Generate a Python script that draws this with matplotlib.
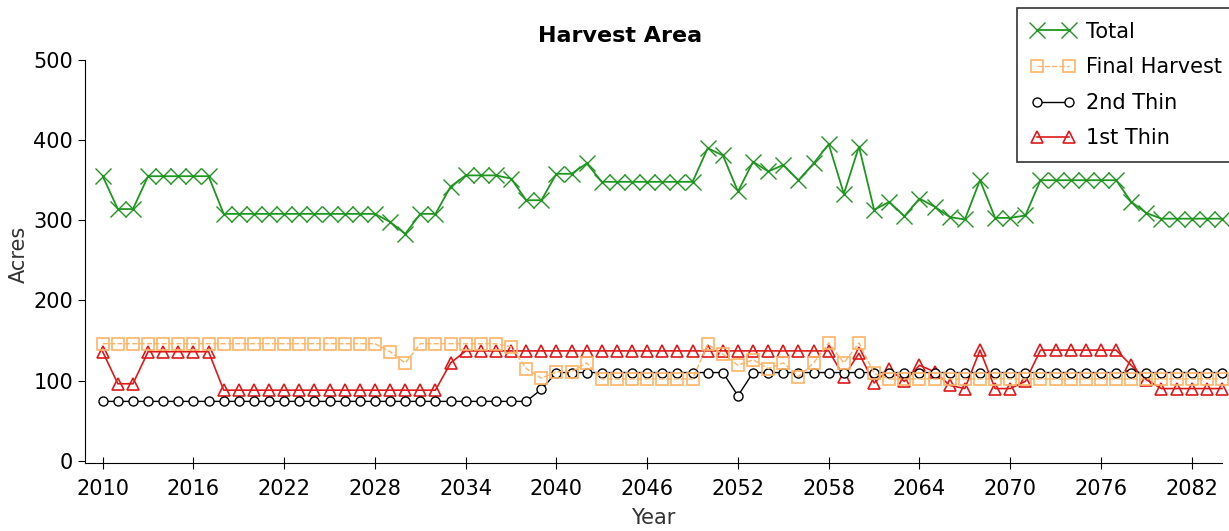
import numpy as np
import matplotlib
matplotlib.use("Agg")
import matplotlib.pyplot as plt

# years and series
years = np.arange(2010, 2085)

total = ([355, 314, 314] + [355] * 5 + [308] * 11 + [298, 283, 308, 308, 342]
         + [356] * 3 + [352, 325, 325, 358, 358, 371] + [348] * 7
         + [390, 381, 336, 373, 361, 369, 350, 371, 395, 333, 392, 313, 323,
            305, 327, 317, 304, 301, 350, 303, 303, 306]
         + [350] * 6 + [323, 309] + [302] * 5)

final_harvest = ([146] * 19 + [136, 122] + [146] * 6
                 + [142, 115, 103, 111, 111, 122] + [102] * 7
                 + [145, 133, 119, 126, 115, 122, 105, 122, 147, 122, 147, 109]
                 + [102] * 23)

thin2 = [74] * 29 + [89] + [110] * 12 + [81] + [110] * 32

thin1 = ([136, 96, 96] + [136] * 5 + [88] * 15 + [122] + [137] * 25
         + [105, 134, 97, 114, 99, 119, 111, 94, 90, 138, 90, 90, 99]
         + [138] * 6 + [119, 101] + [90] * 5)

plt.rcParams['font.family'] = ['DejaVu Sans']

fig = plt.figure(figsize=(12.29, 5.31), dpi=100)
ax = fig.add_axes([85 / 1229, 1 - 462.7 / 531, (1222 - 85) / 1229, 402.7 / 531])

l1, = ax.plot(years, thin1, color='#dd1a1a', lw=1.2, marker='^', ms=8,
              mfc='none', mew=1.2, label='1st Thin', clip_on=False)
l2, = ax.plot(years, thin2, color='black', lw=1.0, marker='o', ms=6.5,
              mfc='white', mew=1.0, label='2nd Thin', clip_on=False)
lf, = ax.plot(years, final_harvest, color='#ffb366', lw=1.0, ls='--',
              marker='s', ms=8, mfc='none', mew=1.2, label='Final Harvest',
              clip_on=False)
lt, = ax.plot(years, total, color='#1f961f', lw=1.3, marker='x', ms=11,
              mew=1.0, label='Total', clip_on=False)

ax.set_xlim(2008.83, 2084)
ax.set_ylim(-2.5, 500)
ax.set_xticks(np.arange(2010, 2083, 6))
ax.set_yticks(np.arange(0, 501, 100))
ax.spines['top'].set_visible(False)
ax.spines['right'].set_visible(False)
ax.tick_params(axis='x', direction='inout', length=8, labelsize=15, pad=8)
ax.tick_params(axis='y', direction='out', length=5, labelsize=15)

ax.set_xlabel('Year', fontsize=15, color='#333333', labelpad=6)
fig.text(19 / 1229, 1 - 254 / 531, 'Acres', rotation=90, ha='center',
         va='center', fontsize=15, color='#333333')
fig.text(620 / 1229, 1 - 36 / 531, 'Harvest Area', ha='center', va='center',
         fontsize=16, fontweight='bold')

leg = fig.legend([lt, lf, l2, l1], ['Total', 'Final Harvest', '2nd Thin', '1st Thin'],
                 loc='upper left', bbox_to_anchor=(1017 / 1229, 1 - 8 / 531),
                 numpoints=2, fontsize=15, frameon=True, fancybox=False,
                 edgecolor='black', handlelength=2.15, handletextpad=0.5,
                 labelspacing=0.75, borderpad=0.65, borderaxespad=0)
leg.get_frame().set_linewidth(1.2)

fig.savefig('out.png', dpi=100)
